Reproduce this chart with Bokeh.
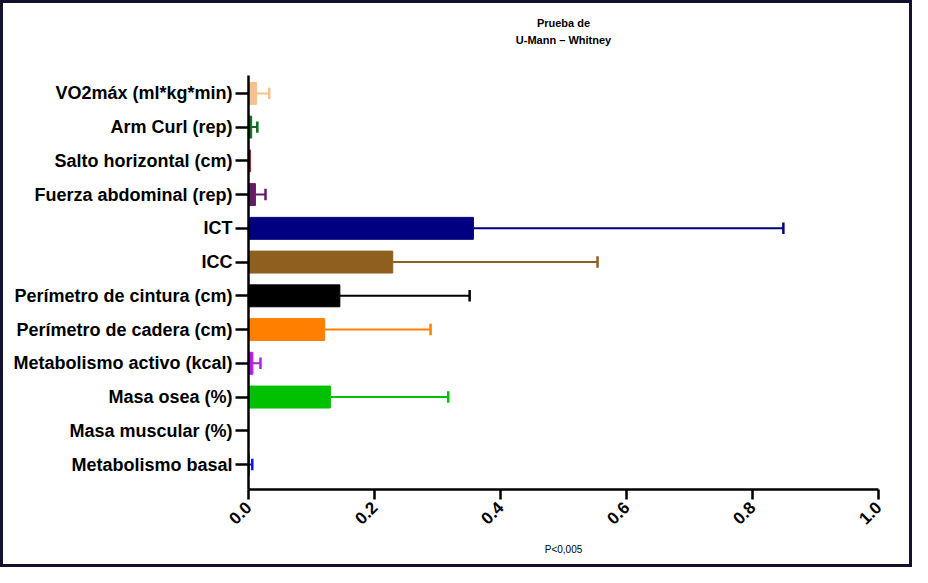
import math
from bokeh.plotting import figure
from bokeh.models import Range1d, FixedTicker, ColumnDataSource, Title
from bokeh.embed import file_html
from bokeh.resources import INLINE

# data (bottom to top)
labels = ["Metabolismo basal", "Masa muscular (%)", "Masa osea (%)",
          "Metabolismo activo (kcal)", "Perímetro de cadera (cm)",
          "Perímetro de cintura (cm)", "ICC", "ICT",
          "Fuerza abdominal (rep)", "Salto horizontal (cm)",
          "Arm Curl (rep)", "VO2máx (ml*kg*min)"]
means = [0.001, 0.0, 0.130, 0.007, 0.121, 0.145, 0.229, 0.357,
         0.011, 0.003, 0.005, 0.013]
errors = [0.005, 0.0, 0.187, 0.012, 0.168, 0.206, 0.325, 0.492,
          0.016, 0.0, 0.009, 0.020]
colors = ["#1010F0", "#FFFFFF", "#00C000", "#B020E0", "#FF8000",
          "#000000", "#8F5F1F", "#000080", "#661A66", "#8B1A1A",
          "#0E6B1E", "#F7C08C"]
x_ticks = [0.0, 0.2, 0.4, 0.6, 0.8, 1.0]
title_lines = ["Prueba de", "U-Mann – Whitney"]

ypos = list(range(len(labels)))
has_err = [e > 0 for e in errors]
src = ColumnDataSource(dict(y=ypos, m=means, c=colors))
esrc = ColumnDataSource(dict(
    y=[y for y, h in zip(ypos, has_err) if h],
    m=[m for m, h in zip(means, has_err) if h],
    hi=[m + e for m, e, h in zip(means, errors, has_err) if h],
    c=[c for c, h in zip(colors, has_err) if h],
    y0=[y - 0.17 for y, h in zip(ypos, has_err) if h],
    y1=[y + 0.17 for y, h in zip(ypos, has_err) if h],
))

W, H = 912, 567
p = figure(width=W, height=H, output_backend="svg", toolbar_location=None,
           x_range=Range1d(0, 1.0), y_range=Range1d(-0.74, 11.53),
           min_border_left=248, min_border_right=34,
           min_border_top=75, min_border_bottom=78)
p.styles = {"outline": "3px solid #12122e", "outline-offset": "-3px",
            "box-shadow": "inset 0 0 0 3px #12122e",
            "background-color": "#ffffff"}
p.border_fill_color = None
p.background_fill_color = "#ffffff"
p.outline_line_color = None
p.grid.visible = False

p.hbar(y="y", left=0, right="m", height=0.65, source=src,
       fill_color="c", line_color="c", line_width=1)
p.segment(x0="m", y0="y", x1="hi", y1="y", source=esrc,
          line_color="c", line_width=2)
p.segment(x0="hi", y0="y0", x1="hi", y1="y1", source=esrc,
          line_color="c", line_width=2.5)

# title: outer line is the plot title, inner line an extra Title,
# with a blank spacer title between it and the frame
title_style = dict(align="center", text_color="#000000",
                   text_font="Liberation Sans", text_font_style="bold",
                   text_font_size="11px")
p.add_layout(Title(text=" ", text_font_size="2px", standoff=24), "above")
p.add_layout(Title(text=title_lines[1], standoff=3, **title_style), "above")
p.title.text = title_lines[0]
p.title.standoff = 3
for k, v in title_style.items():
    setattr(p.title, k, v)

# x axis
xa = p.xaxis[0]
xa.ticker = FixedTicker(ticks=x_ticks)
xa.major_label_overrides = {t: f"{t:.1f}" for t in x_ticks}
xa.major_label_orientation = math.pi / 4
xa.major_label_text_font = "Liberation Sans"
xa.major_label_text_font_style = "bold"
xa.major_label_text_font_size = "17px"
xa.major_label_text_color = "#000000"
xa.axis_line_width = 2.5
xa.major_tick_line_width = 2.5
xa.major_tick_out = 10
xa.major_tick_in = 0
xa.minor_tick_line_color = None
xa.axis_label = "P<0,005"
xa.axis_label_text_font = "Liberation Sans"
xa.axis_label_text_font_style = "normal"
xa.axis_label_text_font_size = "10px"
xa.axis_label_text_color = "#000000"
xa.axis_label_standoff = 11

# y axis
ya = p.yaxis[0]
ya.ticker = FixedTicker(ticks=ypos)
ya.major_label_overrides = {i: l for i, l in zip(ypos, labels)}
ya.major_label_text_font = "Liberation Sans"
ya.major_label_text_font_style = "bold"
ya.major_label_text_font_size = "18px"
ya.major_label_text_color = "#000000"
ya.axis_line_width = 2.5
ya.major_tick_line_width = 2.5
ya.major_tick_out = 13
ya.major_tick_in = 0
ya.minor_tick_line_color = None
ya.major_label_standoff = 3

open("out.html", "w").write(file_html(p, INLINE))
